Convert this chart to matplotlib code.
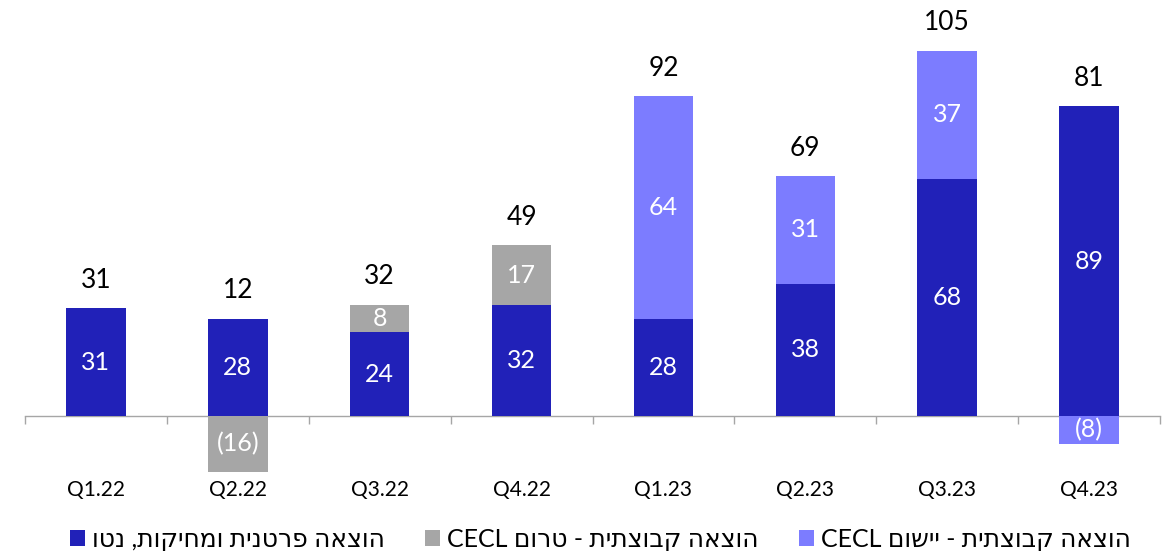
import matplotlib
matplotlib.use("Agg")
import matplotlib.pyplot as plt
import numpy as np
from matplotlib.patches import Patch

# DATA
quarters = ["Q1.22", "Q2.22", "Q3.22", "Q4.22", "Q1.23", "Q2.23", "Q3.23", "Q4.23"]
individual_net = [31, 28, 24, 32, 28, 38, 68, 89]
cecl_pre = [0, -16, 8, 17, 0, 0, 0, 0]
cecl_impl = [0, 0, 0, 0, 64, 31, 37, -8]
totals = [31, 12, 32, 49, 92, 69, 105, 81]

# Hebrew legend labels (logical order); reversed for display since matplotlib has no bidi
series_labels = [
    "הוצאה פרטנית ומחיקות, נטו",
    "הוצאה קבוצתית - טרום CECL",
    "הוצאה קבוצתית - יישום CECL",
]


def visual_rtl(text):
    """Rough bidi: latin word at logical end goes to the visual left."""
    words = text.split(" ")
    latin = [w for w in words if w.isascii() and w.isalpha()]
    heb = " ".join(w for w in words if w not in latin)
    out = heb[::-1]
    if latin:
        out = " ".join(latin) + " " + out
    return out


# STYLE
COLOR_INDIVIDUAL = "#2121B8"
COLOR_PRE = "#A6A6A6"
COLOR_IMPL = "#7C7CFF"
AXIS_COLOR = "#A6A6A6"
BAR_WIDTH = 0.42
FONT = ["Lato", "DejaVu Sans"]

plt.rcParams["font.family"] = FONT

fig = plt.figure(figsize=(11.66, 5.51), dpi=100)
# pixel layout: zero line at y=416, 3.48 px per unit
px_per_unit = 3.48
top_px, bottom_px, zero_px = 10, 475, 416
ax = fig.add_axes([25 / 1166, 1 - bottom_px / 551, 1135 / 1166, (bottom_px - top_px) / 551])
ax.set_ylim(-(bottom_px - zero_px) / px_per_unit, (zero_px - top_px) / px_per_unit)

x = np.arange(len(quarters))
ax.set_xlim(-0.5, len(quarters) - 0.5)

series = [
    (individual_net, COLOR_INDIVIDUAL),
    (cecl_pre, COLOR_PRE),
    (cecl_impl, COLOR_IMPL),
]

pos_base = np.zeros(len(quarters))
neg_base = np.zeros(len(quarters))
for values, color in series:
    vals = np.array(values, dtype=float)
    bottoms = np.where(vals >= 0, pos_base, neg_base)
    ax.bar(x, vals, BAR_WIDTH, bottom=bottoms, color=color, linewidth=0, zorder=3)
    for xi, v, b in zip(x, vals, bottoms):
        if v == 0:
            continue
        label = f"{int(v)}" if v > 0 else f"({int(-v)})"
        ax.text(xi, b + v / 2, label, ha="center", va="center", color="white",
                fontsize=18, zorder=4)
    pos_base = pos_base + np.where(vals > 0, vals, 0)
    neg_base = neg_base + np.where(vals < 0, vals, 0)

# totals above the positive stack
for xi, top, t in zip(x, pos_base, totals):
    ax.annotate(f"{t}", (xi, top), xytext=(0, 20), textcoords="offset points",
                ha="center", va="center", fontsize=19, color="black")

# axes styling
for side in ["top", "right", "left"]:
    ax.spines[side].set_visible(False)
ax.spines["bottom"].set_position(("data", 0))
ax.spines["bottom"].set_color(AXIS_COLOR)
ax.spines["bottom"].set_linewidth(1.0)
ax.set_yticks([])
ax.set_xticks(x)
ax.set_xticklabels(quarters, fontsize=15, color="black")
ax.tick_params(axis="x", which="major", length=0, pad=46)
ax.set_xticks(np.arange(-0.5, len(quarters)), minor=True)
ax.tick_params(axis="x", which="minor", length=6, color=AXIS_COLOR, width=1.0, direction="out")

# legend
handles = [Patch(facecolor=c, edgecolor="none") for _, c in series]
fig.legend(handles, [visual_rtl(s) for s in series_labels], loc="center",
           bbox_to_anchor=(0.515, 1 - 540 / 551), ncol=3, frameon=False,
           handlelength=0.6, handleheight=0.6, handletextpad=0.3,
           columnspacing=1.6, prop={"family": FONT, "size": 18})

fig.savefig("out.png", dpi=100, facecolor="white")
